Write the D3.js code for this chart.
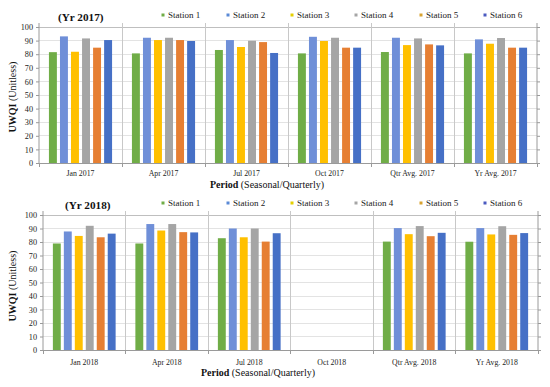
<!DOCTYPE html>
<html><head><meta charset="utf-8">
<script src="https://cdn.jsdelivr.net/npm/d3@7"></script>
<style>body{margin:0;background:#fff}svg{display:block}</style>
</head><body>
<svg id="c" width="550" height="387"></svg>
<script>
const categories2017 = ["Jan 2017","Apr 2017","Jul 2017","Oct 2017","Qtr Avg. 2017","Yr Avg. 2017"];
const categories2018 = ["Jan 2018","Apr 2018","Jul 2018","Oct 2018","Qtr Avg. 2018","Yr Avg. 2018"];
const stations = ["Station 1","Station 2","Station 3","Station 4","Station 5","Station 6"];
// values per category, one per station
const values2017 = [
  [81.5, 93.1, 81.8, 91.6, 84.8, 90.4],
  [80.6, 92.1, 90.4, 92.1, 90.4, 89.7],
  [83.1, 90.4, 85.3, 89.9, 88.9, 80.9],
  [80.6, 92.8, 89.7, 92.1, 84.8, 84.8],
  [81.6, 92.1, 86.7, 91.6, 87.2, 86.5],
  [80.6, 90.9, 87.7, 91.9, 84.8, 84.8]
];
const values2018 = [
  [78.9, 87.8, 84.5, 92.0, 83.5, 86.2],
  [78.9, 93.3, 88.5, 93.3, 87.3, 87.1],
  [82.8, 90.0, 83.5, 90.0, 80.3, 86.5],
  [null, null, null, null, null, null],
  [80.3, 90.3, 85.8, 91.8, 84.3, 86.8],
  [80.2, 90.3, 85.6, 91.7, 85.3, 86.6]
];
const yTicks = [0,10,20,30,40,50,60,70,80,90,100];

const colors = ["#70ad47","#6f8fd8","#ffc000","#a5a5a5","#e67f33","#4670c6"];
const legendColors = ["#70ad47","#5b8ad6","#e5d000","#a5a5a5","#d9a330","#4a5ac0"];
const serif = "'Liberation Serif','Times New Roman',serif";

const svg = d3.select("#c");

function panel(cfg){
  const {cats, vals, title, left, right, top, bottom, titleX, titleY, legendY, ylabX, ylabY, catY, periodX, periodY} = cfg;
  const g = svg.append("g");
  const x0 = d3.scaleBand().domain(cats).range([left, right]).padding(0);
  const x1 = d3.scaleBand().domain(stations).range([0, x0.bandwidth()]).paddingInner(0.28).paddingOuter(0.9);
  const y = d3.scaleLinear().domain([0,100]).range([bottom, top]);

  // horizontal gridlines
  g.append("g").selectAll("line").data(yTicks.filter(t=>t>0)).join("line")
    .attr("x1", left).attr("x2", right)
    .attr("y1", d=>y(d)).attr("y2", d=>y(d))
    .attr("stroke", d=>d===100?"#bfbfbf":"#e3e3e3").attr("stroke-width",1).attr("shape-rendering","crispEdges");

  // vertical category separators
  const bounds = cats.map(c=>x0(c)).concat([right]);
  g.append("g").selectAll("line").data(bounds.slice(1,-1)).join("line")
    .attr("x1", d=>d).attr("x2", d=>d).attr("y1", top-4).attr("y2", bottom+4)
    .attr("stroke","#c8c8c8").attr("shape-rendering","crispEdges");

  // left axis
  const ya = d3.axisLeft(y).tickValues(yTicks).tickSize(3).tickPadding(3);
  const ax = g.append("g").attr("transform",`translate(${left},0)`).call(ya);
  ax.select(".domain").attr("stroke","#9a9a9a").attr("d",`M-0,${bottom}V${top-4}`);
  ax.selectAll(".tick line").attr("stroke","#9a9a9a");
  ax.selectAll("text").attr("font-family",serif).attr("font-size","8.2px").attr("fill","#222");

  // right axis
  const yr = d3.axisRight(y).tickValues(yTicks).tickSize(3).tickFormat("");
  const axr = g.append("g").attr("transform",`translate(${right},0)`).call(yr);
  axr.select(".domain").attr("stroke","#9a9a9a").attr("d",`M0,${bottom}V${top-4}`);
  axr.selectAll(".tick line").attr("stroke","#9a9a9a");

  // x axis line with boundary ticks
  g.append("line").attr("x1",left).attr("x2",right).attr("y1",bottom).attr("y2",bottom)
    .attr("stroke","#9a9a9a").attr("shape-rendering","crispEdges");
  g.append("g").selectAll("line").data(bounds).join("line")
    .attr("x1",d=>d).attr("x2",d=>d).attr("y1",bottom).attr("y2",bottom+4)
    .attr("stroke","#9a9a9a").attr("shape-rendering","crispEdges");

  // bars
  const grp = g.append("g").selectAll("g").data(cats).join("g")
    .attr("transform", c=>`translate(${x0(c)},0)`);
  grp.selectAll("rect").data((c,i)=>stations.map((s,j)=>({s, j, v: vals[i][j]})).filter(d=>d.v!=null))
    .join("rect")
    .attr("x", d=>x1(d.s)).attr("width", x1.bandwidth())
    .attr("y", d=>y(d.v)).attr("height", d=>y(0)-y(d.v))
    .attr("fill", d=>colors[d.j]);

  // category labels
  g.append("g").selectAll("text").data(cats).join("text")
    .attr("x", c=>x0(c)+x0.bandwidth()/2).attr("y", catY)
    .attr("text-anchor","middle").attr("font-family",serif).attr("font-size","7.8px").attr("fill","#222")
    .text(c=>c);

  // title
  g.append("text").attr("x",titleX).attr("y",titleY).attr("font-family",serif)
    .attr("font-weight","bold").attr("font-size","11.2px").attr("fill","#111").text(title);

  // legend
  const lx = [163,228,292,356,421,485];
  const lg = g.append("g").selectAll("g").data(stations).join("g")
    .attr("transform",(d,i)=>`translate(${lx[i]},${legendY})`);
  lg.append("rect").attr("x",-1.5).attr("y",-1.5).attr("width",3).attr("height",3).attr("fill",(d,i)=>legendColors[i]);
  lg.append("text").attr("x",5).attr("y",3).attr("font-family",serif).attr("font-size","9px").attr("fill","#222").text(d=>d);

  // y label
  const yl = g.append("text").attr("transform",`translate(${ylabX},${ylabY}) rotate(-90)`)
    .attr("text-anchor","middle").attr("font-family",serif).attr("font-size","10px").attr("fill","#111");
  yl.append("tspan").attr("font-weight","bold").text("UWQI");
  yl.append("tspan").text(" (Unitless)");

  // x label
  const xl = g.append("text").attr("x",periodX).attr("y",periodY)
    .attr("text-anchor","middle").attr("font-family",serif).attr("font-size","10px").attr("fill","#111");
  xl.append("tspan").attr("font-weight","bold").text("Period");
  xl.append("tspan").text(" (Seasonal/Quarterly)");
}

panel({cats:categories2017, vals:values2017, title:"(Yr 2017)", left:39, right:537, top:27, bottom:163,
  titleX:58, titleY:21, legendY:15, ylabX:16, ylabY:97, catY:176, periodX:267, periodY:188});
panel({cats:categories2018, vals:values2018, title:"(Yr 2018)", left:43, right:538, top:215, bottom:350,
  titleX:65, titleY:209, legendY:203, ylabX:16, ylabY:286, catY:365, periodX:258, periodY:376});
</script>
</body></html>
